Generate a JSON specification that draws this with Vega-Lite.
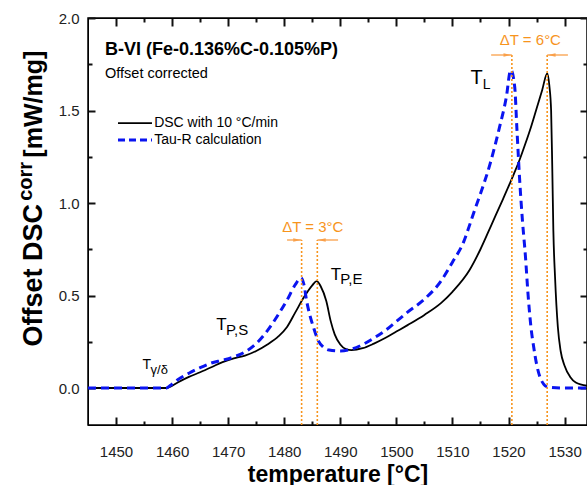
{
  "$schema": "https://vega.github.io/schema/vega-lite/v6.json",
  "width": 499,
  "height": 407,
  "autosize": {"type": "none"},
  "padding": {"left": 88, "top": 18, "right": 0, "bottom": 60},
  "config": {
    "view": {"stroke": "#000", "strokeWidth": 1.5},
    "axis": {"grid": false, "labelFont": "Liberation Sans", "labelFontSize": 15, "labelColor": "#222"},
    "text": {"font": "Liberation Sans"}
  },
  "datasets": {
    "curves": [
      {"series": "DSC", "T": 1445, "v": 0},
      {"series": "DSC", "T": 1452, "v": 0},
      {"series": "DSC", "T": 1459, "v": 0},
      {"series": "DSC", "T": 1459.6, "v": 0.006},
      {"series": "DSC", "T": 1461, "v": 0.03},
      {"series": "DSC", "T": 1463, "v": 0.06},
      {"series": "DSC", "T": 1465, "v": 0.085},
      {"series": "DSC", "T": 1467, "v": 0.112},
      {"series": "DSC", "T": 1469, "v": 0.14},
      {"series": "DSC", "T": 1471, "v": 0.16},
      {"series": "DSC", "T": 1473, "v": 0.175},
      {"series": "DSC", "T": 1475, "v": 0.2},
      {"series": "DSC", "T": 1477, "v": 0.235},
      {"series": "DSC", "T": 1479, "v": 0.28},
      {"series": "DSC", "T": 1480.5, "v": 0.33},
      {"series": "DSC", "T": 1482, "v": 0.41},
      {"series": "DSC", "T": 1483.5, "v": 0.49},
      {"series": "DSC", "T": 1485, "v": 0.555},
      {"series": "DSC", "T": 1485.8, "v": 0.578},
      {"series": "DSC", "T": 1486.5, "v": 0.55},
      {"series": "DSC", "T": 1487.5, "v": 0.47},
      {"series": "DSC", "T": 1488.3, "v": 0.36},
      {"series": "DSC", "T": 1489, "v": 0.29},
      {"series": "DSC", "T": 1490, "v": 0.235},
      {"series": "DSC", "T": 1491, "v": 0.21},
      {"series": "DSC", "T": 1492, "v": 0.205},
      {"series": "DSC", "T": 1494, "v": 0.215},
      {"series": "DSC", "T": 1496, "v": 0.24},
      {"series": "DSC", "T": 1498, "v": 0.27},
      {"series": "DSC", "T": 1500, "v": 0.305},
      {"series": "DSC", "T": 1502, "v": 0.34},
      {"series": "DSC", "T": 1505, "v": 0.395},
      {"series": "DSC", "T": 1508, "v": 0.46},
      {"series": "DSC", "T": 1510, "v": 0.52},
      {"series": "DSC", "T": 1513, "v": 0.635},
      {"series": "DSC", "T": 1515, "v": 0.75},
      {"series": "DSC", "T": 1517, "v": 0.885},
      {"series": "DSC", "T": 1519, "v": 1.02},
      {"series": "DSC", "T": 1521, "v": 1.16},
      {"series": "DSC", "T": 1522, "v": 1.235},
      {"series": "DSC", "T": 1523, "v": 1.32},
      {"series": "DSC", "T": 1524, "v": 1.41},
      {"series": "DSC", "T": 1525, "v": 1.51},
      {"series": "DSC", "T": 1526, "v": 1.61},
      {"series": "DSC", "T": 1526.9, "v": 1.7},
      {"series": "DSC", "T": 1527.3, "v": 1.63},
      {"series": "DSC", "T": 1527.6, "v": 1.5},
      {"series": "DSC", "T": 1527.8, "v": 1.2},
      {"series": "DSC", "T": 1528, "v": 0.85},
      {"series": "DSC", "T": 1528.3, "v": 0.6},
      {"series": "DSC", "T": 1528.8, "v": 0.33},
      {"series": "DSC", "T": 1529.3, "v": 0.2},
      {"series": "DSC", "T": 1530, "v": 0.12},
      {"series": "DSC", "T": 1531, "v": 0.06},
      {"series": "DSC", "T": 1532, "v": 0.03},
      {"series": "DSC", "T": 1534, "v": 0.012},
      {"series": "Tau-R", "T": 1445, "v": 0},
      {"series": "Tau-R", "T": 1452, "v": 0},
      {"series": "Tau-R", "T": 1459, "v": 0},
      {"series": "Tau-R", "T": 1459.6, "v": 0.012},
      {"series": "Tau-R", "T": 1461, "v": 0.045},
      {"series": "Tau-R", "T": 1463, "v": 0.08},
      {"series": "Tau-R", "T": 1465, "v": 0.11},
      {"series": "Tau-R", "T": 1467, "v": 0.135},
      {"series": "Tau-R", "T": 1469, "v": 0.15},
      {"series": "Tau-R", "T": 1471, "v": 0.168},
      {"series": "Tau-R", "T": 1473, "v": 0.195},
      {"series": "Tau-R", "T": 1475, "v": 0.24},
      {"series": "Tau-R", "T": 1477, "v": 0.31},
      {"series": "Tau-R", "T": 1479, "v": 0.4},
      {"series": "Tau-R", "T": 1480.5, "v": 0.475},
      {"series": "Tau-R", "T": 1482, "v": 0.56},
      {"series": "Tau-R", "T": 1483, "v": 0.595},
      {"series": "Tau-R", "T": 1483.5, "v": 0.56},
      {"series": "Tau-R", "T": 1484, "v": 0.47},
      {"series": "Tau-R", "T": 1484.6, "v": 0.39},
      {"series": "Tau-R", "T": 1485.2, "v": 0.33},
      {"series": "Tau-R", "T": 1486, "v": 0.26},
      {"series": "Tau-R", "T": 1487, "v": 0.22},
      {"series": "Tau-R", "T": 1488, "v": 0.205},
      {"series": "Tau-R", "T": 1490, "v": 0.2},
      {"series": "Tau-R", "T": 1492, "v": 0.21},
      {"series": "Tau-R", "T": 1494, "v": 0.235},
      {"series": "Tau-R", "T": 1496, "v": 0.27},
      {"series": "Tau-R", "T": 1498, "v": 0.31},
      {"series": "Tau-R", "T": 1500, "v": 0.36},
      {"series": "Tau-R", "T": 1502, "v": 0.41},
      {"series": "Tau-R", "T": 1505, "v": 0.48},
      {"series": "Tau-R", "T": 1508, "v": 0.58},
      {"series": "Tau-R", "T": 1510, "v": 0.68},
      {"series": "Tau-R", "T": 1512, "v": 0.79},
      {"series": "Tau-R", "T": 1513, "v": 0.875},
      {"series": "Tau-R", "T": 1514, "v": 0.965},
      {"series": "Tau-R", "T": 1515, "v": 1.05},
      {"series": "Tau-R", "T": 1516.7, "v": 1.21},
      {"series": "Tau-R", "T": 1518.4, "v": 1.41},
      {"series": "Tau-R", "T": 1519.6, "v": 1.57},
      {"series": "Tau-R", "T": 1520.4, "v": 1.72},
      {"series": "Tau-R", "T": 1521.1, "v": 1.63},
      {"series": "Tau-R", "T": 1521.5, "v": 1.4},
      {"series": "Tau-R", "T": 1522, "v": 1.12},
      {"series": "Tau-R", "T": 1522.5, "v": 0.9},
      {"series": "Tau-R", "T": 1523, "v": 0.72},
      {"series": "Tau-R", "T": 1523.5, "v": 0.5},
      {"series": "Tau-R", "T": 1524, "v": 0.33},
      {"series": "Tau-R", "T": 1524.5, "v": 0.22},
      {"series": "Tau-R", "T": 1525, "v": 0.13},
      {"series": "Tau-R", "T": 1525.6, "v": 0.06},
      {"series": "Tau-R", "T": 1526.3, "v": 0.02},
      {"series": "Tau-R", "T": 1527, "v": 0.005},
      {"series": "Tau-R", "T": 1530, "v": 0},
      {"series": "Tau-R", "T": 1534, "v": 0}
    ],
    "vlines": [
      {"T": 1483.1, "v1": -0.2, "v2": 0.8},
      {"T": 1485.9, "v1": -0.2, "v2": 0.8},
      {"T": 1520.6, "v1": -0.2, "v2": 1.8},
      {"T": 1526.9, "v1": -0.2, "v2": 1.8}
    ],
    "shafts": [
      {"T1": 1480.5, "T2": 1483.1, "v": 0.8},
      {"T1": 1489.6, "T2": 1485.9, "v": 0.8},
      {"T1": 1516.9, "T2": 1520.6, "v": 1.8},
      {"T1": 1530.6, "T2": 1526.9, "v": 1.8}
    ],
    "headsR": [
      {"T": 1482.3, "v": 0.8},
      {"T": 1519.8, "v": 1.8}
    ],
    "headsL": [
      {"T": 1486.7, "v": 0.8},
      {"T": 1527.7, "v": 1.8}
    ],
    "legendLines": [
      {"series": "DSC", "T1": 1450.35, "T2": 1456.41, "v": 1.432},
      {"series": "Tau-R", "T1": 1450.35, "T2": 1456.41, "v": 1.34}
    ],
    "legendText": [
      {"T": 1456.8, "v": 1.432, "text": "DSC with 10 °C/min"},
      {"T": 1456.8, "v": 1.34, "text": "Tau-R calculation"}
    ],
    "dT": [
      {"T": 1485.1, "v": 0.843, "text": "ΔT = 3°C"},
      {"T": 1523.9, "v": 1.854, "text": "ΔT = 6°C"}
    ],
    "bigT": [
      {"T": 1468.8, "v": 0.311, "text": "T"},
      {"T": 1489.2, "v": 0.582, "text": "T"}
    ],
    "bigSub": [
      {"T": 1469.6, "v": 0.289, "text": "P,S"},
      {"T": 1490.0, "v": 0.56, "text": "P,E"}
    ]
  },
  "resolve": {"axis": {"x": "independent", "y": "independent"}},
  "layer": [
    {
      "data": {"name": "curves"},
      "transform": [{"filter": "datum.series == 'DSC'"}],
      "mark": {"type": "line", "color": "#000", "strokeWidth": 1.8, "interpolate": "monotone"},
      "encoding": {
        "x": {"field": "T", "type": "quantitative", "scale": {"domain": [1445, 1534], "nice": false, "zero": false},
          "axis": {"orient": "bottom", "values": [1450, 1460, 1470, 1480, 1490, 1500, 1510, 1520, 1530], "format": "d",
            "ticks": true, "domainColor": "black", "tickColor": "#111", "tickWidth": 2, "tickSize": -8, "labelPadding": 27,
            "title": "temperature [°C]", "titleFont": "Liberation Sans", "titleFontSize": 23, "titleFontWeight": "bold", "titleColor": "#000", "titlePadding": 4}},
        "y": {"field": "v", "type": "quantitative", "scale": {"domain": [-0.2, 2.0], "nice": false, "zero": false},
          "axis": {"orient": "left", "values": [0, 0.5, 1, 1.5, 2], "format": ".1f",
            "ticks": true, "domainColor": "black", "tickColor": "#111", "tickWidth": 2, "tickSize": -7, "labelPadding": 16, "title": null}}
      }
    },
    {
      "data": {"name": "curves"},
      "transform": [{"filter": "datum.series == 'Tau-R'"}],
      "mark": {"type": "line", "color": "#0a14f0", "strokeWidth": 3, "strokeDash": [8, 5], "interpolate": "monotone"},
      "encoding": {
        "x": {"field": "T", "type": "quantitative",
          "axis": {"orient": "top", "values": [1450, 1460, 1470, 1480, 1490, 1500, 1510, 1520, 1530],
            "labels": false, "title": null, "ticks": true, "domainColor": "black", "tickColor": "#111", "tickWidth": 2, "tickSize": -8}},
        "y": {"field": "v", "type": "quantitative",
          "axis": {"orient": "right", "values": [0, 0.5, 1, 1.5, 2],
            "labels": false, "title": null, "ticks": true, "domainColor": "black", "tickColor": "#111", "tickWidth": 2, "tickSize": -7}}
      }
    },
    {
      "data": {"name": "vlines"},
      "mark": {"type": "rule", "color": "#f7941d", "strokeWidth": 1.6, "strokeDash": [2, 2]},
      "encoding": {
        "x": {"field": "T", "type": "quantitative",
          "axis": {"orient": "bottom", "values": [1455, 1465, 1475, 1485, 1495, 1505, 1515, 1525],
            "labels": false, "title": null, "ticks": true, "domainColor": "black", "tickColor": "#111", "tickWidth": 2, "tickSize": -4}},
        "y": {"field": "v1", "type": "quantitative",
          "axis": {"orient": "left", "values": [0.25, 0.75, 1.25, 1.75],
            "labels": false, "title": null, "ticks": true, "domainColor": "black", "tickColor": "#111", "tickWidth": 2, "tickSize": -4}},
        "y2": {"field": "v2"}
      }
    },
    {
      "data": {"name": "shafts"},
      "mark": {"type": "rule", "color": "#f9a04a", "strokeWidth": 1.3},
      "encoding": {
        "x": {"field": "T1", "type": "quantitative",
          "axis": {"orient": "top", "values": [1455, 1465, 1475, 1485, 1495, 1505, 1515, 1525],
            "labels": false, "title": null, "ticks": true, "domainColor": "black", "tickColor": "#111", "tickWidth": 2, "tickSize": -4}},
        "x2": {"field": "T2"},
        "y": {"field": "v", "type": "quantitative",
          "axis": {"orient": "right", "values": [0.25, 0.75, 1.25, 1.75],
            "labels": false, "title": null, "ticks": true, "domainColor": "black", "tickColor": "#111", "tickWidth": 2, "tickSize": -4}}
      }
    },
    {
      "data": {"name": "headsR"},
      "mark": {"type": "point", "shape": "M-1,-0.45L1,0L-1,0.45Z", "filled": true, "color": "#f9a04a", "size": 60, "opacity": 1},
      "encoding": {
        "x": {"field": "T", "type": "quantitative", "axis": null},
        "y": {"field": "v", "type": "quantitative", "axis": null}
      }
    },
    {
      "data": {"name": "headsL"},
      "mark": {"type": "point", "shape": "M1,-0.45L-1,0L1,0.45Z", "filled": true, "color": "#f9a04a", "size": 60, "opacity": 1},
      "encoding": {
        "x": {"field": "T", "type": "quantitative", "axis": null},
        "y": {"field": "v", "type": "quantitative", "axis": null}
      }
    },
    {
      "data": {"name": "legendLines"},
      "transform": [{"filter": "datum.series == 'DSC'"}],
      "mark": {"type": "rule", "color": "#000", "strokeWidth": 1.8},
      "encoding": {
        "x": {"field": "T1", "type": "quantitative", "axis": null},
        "x2": {"field": "T2"},
        "y": {"field": "v", "type": "quantitative", "axis": null}
      }
    },
    {
      "data": {"name": "legendLines"},
      "transform": [{"filter": "datum.series == 'Tau-R'"}],
      "mark": {"type": "rule", "color": "#0a14f0", "strokeWidth": 3, "strokeDash": [7, 4]},
      "encoding": {
        "x": {"field": "T1", "type": "quantitative", "axis": null},
        "x2": {"field": "T2"},
        "y": {"field": "v", "type": "quantitative", "axis": null}
      }
    },
    {
      "data": {"name": "legendText"},
      "mark": {"type": "text", "align": "left", "baseline": "middle", "fontSize": 14, "color": "#000"},
      "encoding": {
        "x": {"field": "T", "type": "quantitative", "axis": null},
        "y": {"field": "v", "type": "quantitative", "axis": null},
        "text": {"field": "text"}
      }
    },
    {
      "data": {"values": [{"T": 1448.03, "v": 1.8, "text": "B-VI (Fe-0.136%C-0.105%P)"}]},
      "mark": {"type": "text", "align": "left", "baseline": "alphabetic", "fontSize": 18, "fontWeight": "bold", "color": "#000"},
      "encoding": {
        "x": {"field": "T", "type": "quantitative", "axis": null},
        "y": {"field": "v", "type": "quantitative", "axis": null},
        "text": {"field": "text"}
      }
    },
    {
      "data": {"values": [{"T": 1448.03, "v": 1.675, "text": "Offset corrected"}]},
      "mark": {"type": "text", "align": "left", "baseline": "alphabetic", "fontSize": 14.5, "color": "#000"},
      "encoding": {
        "x": {"field": "T", "type": "quantitative", "axis": null},
        "y": {"field": "v", "type": "quantitative", "axis": null},
        "text": {"field": "text"}
      }
    },
    {
      "data": {"name": "dT"},
      "mark": {"type": "text", "align": "center", "baseline": "alphabetic", "fontSize": 15, "color": "#f7941d"},
      "encoding": {
        "x": {"field": "T", "type": "quantitative", "axis": null},
        "y": {"field": "v", "type": "quantitative", "axis": null},
        "text": {"field": "text"}
      }
    },
    {
      "data": {"name": "bigT"},
      "mark": {"type": "text", "align": "center", "baseline": "alphabetic", "fontSize": 17, "color": "#000"},
      "encoding": {
        "x": {"field": "T", "type": "quantitative", "axis": null},
        "y": {"field": "v", "type": "quantitative", "axis": null},
        "text": {"field": "text"}
      }
    },
    {
      "data": {"name": "bigSub"},
      "mark": {"type": "text", "align": "left", "baseline": "alphabetic", "fontSize": 15, "color": "#000"},
      "encoding": {
        "x": {"field": "T", "type": "quantitative", "axis": null},
        "y": {"field": "v", "type": "quantitative", "axis": null},
        "text": {"field": "text"}
      }
    },
    {
      "data": {"values": [{"T": 1455.5, "v": 0.105, "text": "T"}]},
      "mark": {"type": "text", "align": "center", "baseline": "alphabetic", "fontSize": 14, "color": "#000"},
      "encoding": {
        "x": {"field": "T", "type": "quantitative", "axis": null},
        "y": {"field": "v", "type": "quantitative", "axis": null},
        "text": {"field": "text"}
      }
    },
    {
      "data": {"values": [{"T": 1456.15, "v": 0.077, "text": "γ/δ"}]},
      "mark": {"type": "text", "align": "left", "baseline": "alphabetic", "fontSize": 13, "color": "#000"},
      "encoding": {
        "x": {"field": "T", "type": "quantitative", "axis": null},
        "y": {"field": "v", "type": "quantitative", "axis": null},
        "text": {"field": "text"}
      }
    },
    {
      "data": {"values": [{"T": 1514.3, "v": 1.643, "text": "T"}]},
      "mark": {"type": "text", "align": "center", "baseline": "alphabetic", "fontSize": 20, "color": "#000"},
      "encoding": {
        "x": {"field": "T", "type": "quantitative", "axis": null},
        "y": {"field": "v", "type": "quantitative", "axis": null},
        "text": {"field": "text"}
      }
    },
    {
      "data": {"values": [{"T": 1515.4, "v": 1.616, "text": "L"}]},
      "mark": {"type": "text", "align": "left", "baseline": "alphabetic", "fontSize": 14, "color": "#000"},
      "encoding": {
        "x": {"field": "T", "type": "quantitative", "axis": null},
        "y": {"field": "v", "type": "quantitative", "axis": null},
        "text": {"field": "text"}
      }
    },
    {
      "data": {"values": [{"T": 1436.8, "v": 0.224, "text": "Offset DSC"}]},
      "mark": {"type": "text", "align": "left", "baseline": "alphabetic", "angle": 270, "fontSize": 27, "fontWeight": "bold", "color": "#000"},
      "encoding": {
        "x": {"field": "T", "type": "quantitative", "axis": null},
        "y": {"field": "v", "type": "quantitative", "axis": null},
        "text": {"field": "text"}
      }
    },
    {
      "data": {"values": [{"T": 1435.0, "v": 1.012, "text": "corr"}]},
      "mark": {"type": "text", "align": "left", "baseline": "alphabetic", "angle": 270, "fontSize": 20, "fontWeight": "bold", "color": "#000"},
      "encoding": {
        "x": {"field": "T", "type": "quantitative", "axis": null},
        "y": {"field": "v", "type": "quantitative", "axis": null},
        "text": {"field": "text"}
      }
    },
    {
      "data": {"values": [{"T": 1436.8, "v": 1.245, "text": "[mW/mg]"}]},
      "mark": {"type": "text", "align": "left", "baseline": "alphabetic", "angle": 270, "fontSize": 25, "fontWeight": "bold", "color": "#000"},
      "encoding": {
        "x": {"field": "T", "type": "quantitative", "axis": null},
        "y": {"field": "v", "type": "quantitative", "axis": null},
        "text": {"field": "text"}
      }
    }
  ]
}
